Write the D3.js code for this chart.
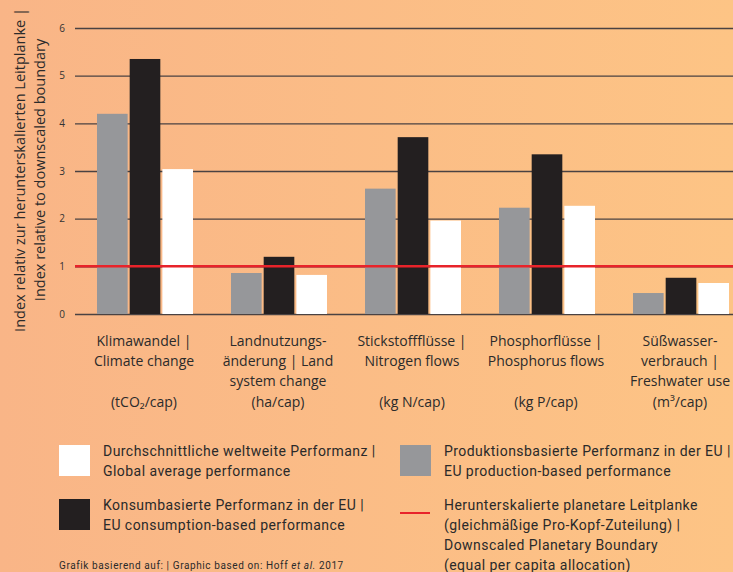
<!DOCTYPE html>
<html>
<head>
<meta charset="utf-8">
<script src="https://cdn.jsdelivr.net/npm/d3@7"></script>
<style>
    body { margin: 0; padding: 0; overflow: hidden; }
    .cat { font-family: "Open Sans", sans-serif; font-size: 14px; fill: #2b2b2b; }
    .ytick { font-family: "Open Sans", sans-serif; font-size: 10px; fill: #333; }
    .ytitle { font-family: "Open Sans", sans-serif; font-size: 14.5px; fill: #2b2b2b; }
    .leg { font-family: "Liberation Sans Narrow", "Roboto", sans-serif; font-size: 14px; letter-spacing: 0.45px; fill: #2a2a2a; }
    .src { font-family: "Liberation Sans Narrow", "Roboto", sans-serif; font-size: 10px; letter-spacing: 0.6px; fill: #2a2a2a; }
</style>
</head>
<body>
<div id="chart"></div>
<script>
// chart data
const categories = [
    ["Klimawandel |", "Climate change"],
    ["Landnutzungs-", "änderung | Land", "system change"],
    ["Stickstoffflüsse |", "Nitrogen flows"],
    ["Phosphorflüsse |", "Phosphorus flows"],
    ["Süßwasser-", "verbrauch |", "Freshwater use"]
];
const units = ["(tCO₂/cap)", "(ha/cap)", "(kg N/cap)", "(kg P/cap)", "(m³/cap)"];
const production = [4.20, 0.86, 2.63, 2.23, 0.44];
const consumption = [5.35, 1.20, 3.71, 3.35, 0.76];
const globalAvg = [3.04, 0.82, 1.96, 2.27, 0.65];
const boundary = 1;
const yTicks = [0, 1, 2, 3, 4, 5, 6];

const W = 733, H = 572;
const margin = { left: 75, top: 28 };
const plotW = W - margin.left;
const plotH = 314 - 28;

const svg = d3.select("#chart").append("svg")
    .attr("width", W)
    .attr("height", H);

// background gradient
const defs = svg.append("defs");
const grad = defs.append("linearGradient").attr("id", "bg")
    .attr("x1", "0%").attr("x2", "100%").attr("y1", "0%").attr("y2", "0%");
grad.append("stop").attr("offset", "0%").attr("stop-color", "#f9b587");
grad.append("stop").attr("offset", "100%").attr("stop-color", "#fdc485");
svg.append("rect").attr("width", W).attr("height", H).attr("fill", "url(#bg)");

const g = svg.append("g")
    .attr("transform", "translate(" + margin.left + "," + margin.top + ")");

const y = d3.scaleLinear().domain([0, 6]).range([plotH, 0]);

const x0 = d3.scaleBand()
    .domain(d3.range(categories.length))
    .range([2, 2 + 134 * 5])
    .paddingInner(0)
    .paddingOuter(0);

const series = [
    { key: "prod", values: production, color: "#96979a" },
    { key: "cons", values: consumption, color: "#231f20" },
    { key: "glob", values: globalAvg, color: "#ffffff" }
];

const x1 = d3.scaleBand()
    .domain(series.map(s => s.key))
    .range([20, 116])
    .paddingInner(0.0625);

// grid
g.append("g")
    .attr("class", "grid")
    .call(d3.axisLeft(y).tickValues(yTicks).tickSize(-plotW).tickFormat(""))
    .call(s => s.select(".domain").remove())
    .call(s => s.selectAll("line").attr("stroke", "#4a4242").attr("stroke-width", 1.3));

// y tick labels
g.selectAll(".ytick").data(yTicks).enter().append("text")
    .attr("class", "ytick")
    .attr("x", -13)
    .attr("y", d => y(d))
    .attr("dy", "0.35em")
    .attr("text-anchor", "middle")
    .text(d => d);

// bars
series.forEach(s => {
    g.selectAll(".bar-" + s.key).data(s.values).enter().append("rect")
        .attr("class", "bar-" + s.key)
        .attr("x", (d, i) => x0(i) + x1(s.key))
        .attr("y", d => y(d))
        .attr("width", x1.bandwidth())
        .attr("height", d => y(0) - y(d))
        .attr("fill", s.color);
});

// boundary line
g.append("line")
    .attr("x1", 0).attr("x2", plotW)
    .attr("y1", y(boundary)).attr("y2", y(boundary))
    .attr("stroke", "#e8232a")
    .attr("stroke-width", 2.5);

// category labels
categories.forEach((lines, i) => {
    const cx = margin.left + x0(i) + x0.bandwidth() / 2;
    const t = svg.append("text").attr("class", "cat").attr("text-anchor", "middle");
    lines.forEach((l, j) => {
        t.append("tspan").attr("x", cx).attr("y", 346 + j * 20).text(l);
    });
    svg.append("text").attr("class", "cat").attr("text-anchor", "middle")
        .attr("x", cx).attr("y", 407)
        .text(units[i]);
});

// y title
const yt = svg.append("text").attr("class", "ytitle")
    .attr("transform", "translate(0,170) rotate(-90)")
    .attr("text-anchor", "middle");
yt.append("tspan").attr("x", 0).attr("y", 25).text("Index relativ zur herunterskalierten Leitplanke |");
yt.append("tspan").attr("x", 0).attr("y", 45).text("Index relative to downscaled boundary");

// legend
const legendItems = [
    { type: "rect", color: "#ffffff", x: 59, y: 445, lines: ["Durchschnittliche weltweite Performanz |", "Global average performance"] },
    { type: "rect", color: "#96979a", x: 400, y: 445, lines: ["Produktionsbasierte Performanz in der EU |", "EU production-based performance"] },
    { type: "rect", color: "#231f20", x: 59, y: 499, lines: ["Konsumbasierte Performanz in der EU |", "EU consumption-based performance"] },
    { type: "line", color: "#e8232a", x: 400, y: 499, lines: ["Herunterskalierte planetare Leitplanke", "(gleichmäßige Pro-Kopf-Zuteilung) |", "Downscaled Planetary Boundary", "(equal per capita allocation)"] }
];

const leg = svg.append("g").attr("class", "legend");
legendItems.forEach(item => {
    if (item.type === "rect") {
        leg.append("rect")
            .attr("x", item.x).attr("y", item.y)
            .attr("width", 31).attr("height", 31)
            .attr("fill", item.color);
    } else {
        leg.append("line")
            .attr("x1", item.x).attr("x2", item.x + 30)
            .attr("y1", item.y + 14).attr("y2", item.y + 14)
            .attr("stroke", item.color).attr("stroke-width", 2);
    }
    const t = leg.append("text").attr("class", "leg");
    item.lines.forEach((l, j) => {
        t.append("tspan").attr("x", item.x + 44).attr("y", item.y + 11 + j * 20).text(l);
    });
});

const src = svg.append("text").attr("class", "src").attr("x", 59).attr("y", 569);
src.append("tspan").text("Grafik basierend auf: | Graphic based on: Hoff ");
src.append("tspan").attr("font-style", "italic").text("et al.");
src.append("tspan").text(" 2017");
</script>
</body>
</html>
